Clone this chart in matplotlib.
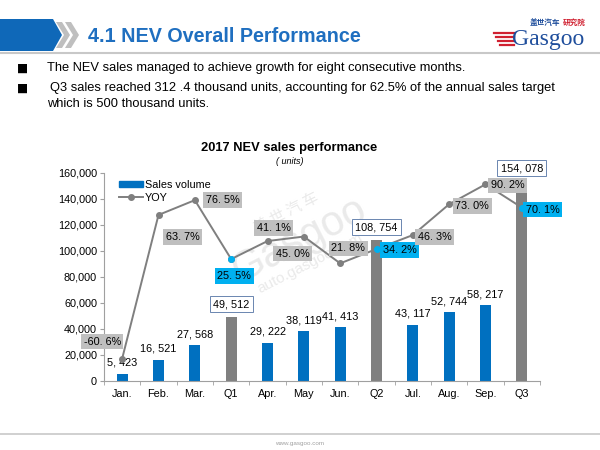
import numpy as np
import matplotlib
matplotlib.use("Agg")
from matplotlib import pyplot as plt
from matplotlib.patches import Polygon, Rectangle
from matplotlib.lines import Line2D

# data
categories = ['Jan.', 'Feb.', 'Mar.', 'Q1', 'Apr.', 'May', 'Jun.', 'Q2',
              'Jul.', 'Aug.', 'Sep.', 'Q3']
sales = [5423, 16521, 27568, 49512, 29222, 38119, 41413, 108754,
         43117, 52744, 58217, 154078]
yoy = [-60.6, 63.7, 76.5, 25.5, 41.1, 45.0, 21.8, 34.2, 46.3, 73.0, 90.2, 70.1]
is_quarter = [False, False, False, True, False, False, False, True,
              False, False, False, True]
yticks = [0, 20000, 40000, 60000, 80000, 100000, 120000, 140000, 160000]

# offsets of the yoy labels, pixels (x right, y up)
yoy_off = [(-20, 17), (24, -22), (28, 0), (3, -17), (6, 13), (-11, -17),
           (8, 15), (23, -1), (22, -2), (23, -2), (22, -1), (21, -2)]

W, H = 600, 450
BLUE = '#0070c0'
GREY_BAR = '#808080'
CYAN = '#00b0f0'

plt.rcParams['font.family'] = ['Liberation Sans', 'DejaVu Sans']

fig = plt.figure(figsize=(6, 4.5), dpi=100)


def fx(x):
    return x / W


def fy(y):
    return 1 - y / H


# header
fig.patches.append(Polygon([[fx(0), fy(19)], [fx(53), fy(19)], [fx(62), fy(35)],
                            [fx(53), fy(51)], [fx(0), fy(51)]],
                           closed=True, transform=fig.transFigure,
                           facecolor='#0f68b8', edgecolor='none'))
for x0 in (56, 65):
    fig.patches.append(Polygon([[fx(x0), fy(22)], [fx(x0 + 6), fy(22)],
                                [fx(x0 + 14), fy(35)], [fx(x0 + 6), fy(48)],
                                [fx(x0), fy(48)], [fx(x0 + 8), fy(35)]],
                               closed=True, transform=fig.transFigure,
                               facecolor='#bfbfbf', edgecolor='none'))
fig.text(fx(88), fy(36), '4.1 NEV Overall Performance', fontsize=14.2,
         fontweight='bold', color='#1f6fc0', va='center', ha='left')
fig.add_artist(Line2D([0, 1], [fy(53), fy(53)], color='#c8c8c8', lw=1.5,
                      transform=fig.transFigure))

# logo
fig.text(fx(530), fy(22), '盖世汽车', fontsize=5.5, color='#1f4e9c',
         family=['Noto Sans CJK SC'], va='center', ha='left', fontweight='bold')
fig.text(fx(563), fy(22), '研究院', fontsize=5.5, color='#d02030',
         family=['Noto Sans CJK SC'], va='center', ha='left', fontweight='bold')
fig.text(fx(512), fy(39), 'Gasgoo', fontsize=17, color='#1f4e9c',
         family=['Liberation Serif'], va='center', ha='left')
for i, yy in enumerate((33, 37, 41, 45)):
    fig.add_artist(Line2D([fx(494 + i * 2), fx(514)], [fy(yy), fy(yy)],
                          color='#d02030', lw=1.6, transform=fig.transFigure))

# bullets
bullet_rows = [(47, 68, 'The NEV sales managed to achieve growth for eight consecutive months.'),
               (50, 88, 'Q3 sales reached 312 .4 thousand units, accounting for 62.5% of the annual sales target'),
               (47, 104, 'which is 500 thousand units.')]
for x0, y0, s in bullet_rows:
    fig.text(fx(x0), fy(y0), s, fontsize=9.3, va='center', ha='left')
for y0 in (68, 88):
    fig.text(fx(17), fy(y0), '■', fontsize=8.5, va='center', ha='left',
             family=['DejaVu Sans'])

# footer
fig.add_artist(Line2D([0, 1], [fy(434), fy(434)], color='#c8c8c8', lw=1.2,
                      transform=fig.transFigure))
fig.text(0.5, fy(444), 'www.gasgoo.com', fontsize=4.5, color='#a0a0a0',
         ha='center', va='center')

# watermark (behind the chart)
wm = dict(color='#dcdcdc', alpha=0.6, transform=fig.transFigure,
          ha='center', va='center', zorder=-1)
fig.text(fx(286), fy(213), '盖 世 汽 车', fontsize=11, rotation=27,
         family=['Noto Sans CJK SC'], **wm)
fig.text(fx(300), fy(240), 'Gasgoo', fontsize=30, rotation=27,
         family=['Liberation Sans'], **wm)
fig.text(fx(310), fy(263), 'auto.gasgoo.com', fontsize=11, rotation=27, **wm)

# chart
ax = fig.add_axes([fx(104), fy(381), fx(436), (381 - 173) / H])
ax.patch.set_alpha(0)
x = np.arange(len(categories))
colors = [GREY_BAR if q else BLUE for q in is_quarter]
ax.bar(x, sales, width=0.3, color=colors, zorder=2)
ax.set_xlim(-0.5, len(categories) - 0.5)
ax.set_ylim(0, 160000)
ax.set_yticks(yticks)
ax.set_yticklabels(['{:,}'.format(v) for v in yticks], fontsize=7.8)
ax.set_xticks(x)
ax.set_xticklabels(categories, fontsize=7.8)
ax.set_xticks(np.arange(-0.5, len(categories)), minor=True)
ax.tick_params(axis='x', which='major', length=0, pad=6)
ax.tick_params(axis='x', which='minor', length=3, color='#a0a0a0')
ax.tick_params(axis='y', length=3, color='#a0a0a0', pad=2)
for s in ('top', 'right'):
    ax.spines[s].set_visible(False)
for s in ('left', 'bottom'):
    ax.spines[s].set_color('#a0a0a0')
    ax.spines[s].set_linewidth(0.8)

for xi, v, q in zip(x, sales, is_quarter):
    lab = '{:,}'.format(v).replace(',', ', ')
    if q:
        ax.annotate(lab, (xi, v), xytext=(0, 9), textcoords='offset points',
                    ha='center', va='center', fontsize=7.8, zorder=6,
                    bbox=dict(boxstyle='square,pad=0.3', fc='white',
                              ec='#6a86b0', lw=0.7))
    else:
        ax.annotate(lab, (xi, v), xytext=(0, 8), textcoords='offset points',
                    ha='center', va='center', fontsize=7.8, zorder=6)

ax2 = ax.twinx()
ax2.set_ylim(-80, 100)
ax2.axis('off')
ax2.plot(x, yoy, color='#7f7f7f', lw=1.4, marker='o', markersize=4,
         markerfacecolor='#7f7f7f', markeredgecolor='#7f7f7f', zorder=3)
qx = [xi for xi, q in zip(x, is_quarter) if q]
qy = [v for v, q in zip(yoy, is_quarter) if q]
ax2.plot(qx, qy, 'o', color=CYAN, markersize=4, zorder=4)
for xi, v, q, (dx, dy) in zip(x, yoy, is_quarter, yoy_off):
    ax2.annotate('{:.1f}%'.format(v).replace('.', '. '), (xi, v),
                 xytext=(dx * 0.72, dy * 0.72), textcoords='offset points',
                 ha='center', va='center', fontsize=7.8, zorder=6,
                 bbox=dict(boxstyle='square,pad=0.25',
                           fc=CYAN if q else '#bfbfbf', ec='none'))

handles = [Rectangle((0, 0), 1, 1, color=BLUE),
           Line2D([], [], color='#7f7f7f', lw=1.4, marker='o', markersize=4)]
ax2.legend(handles, ['Sales volume', 'YOY'], loc='upper left',
           bbox_to_anchor=(0.02, 1.0), frameon=False, fontsize=7.8,
           handlelength=2.2, handleheight=0.5, labelspacing=0.3,
           handletextpad=0.2, borderaxespad=0.2)

fig.text(fx(289), fy(148), '2017 NEV sales performance', fontsize=9.3,
         fontweight='bold', ha='center', va='center')
fig.text(fx(290), fy(161), '( units)', fontsize=6.5, style='italic',
         ha='center', va='center')

fig.savefig('out.png', dpi=100)
